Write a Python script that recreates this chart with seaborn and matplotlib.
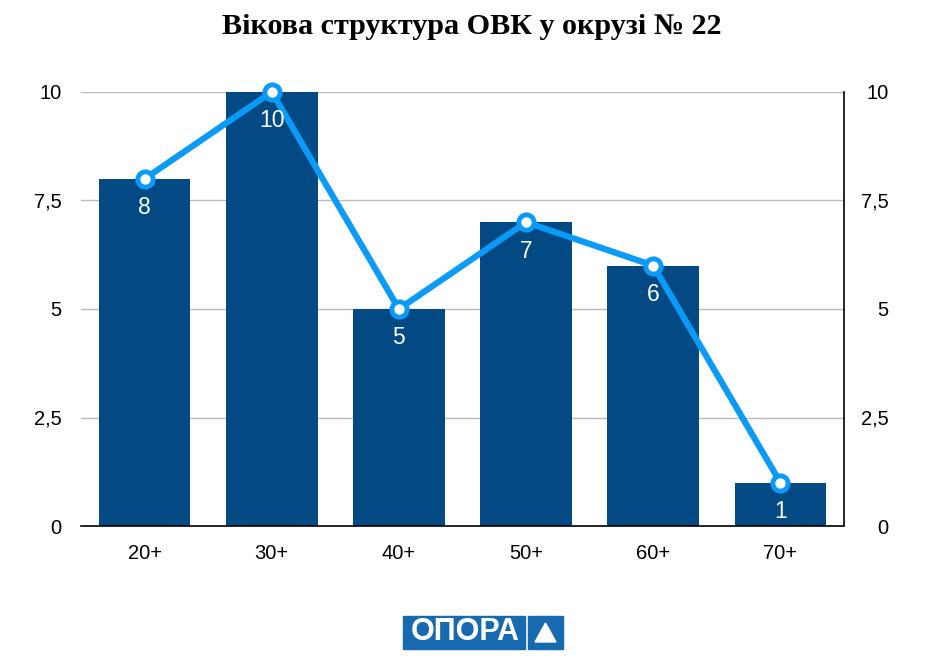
import numpy as np
import pandas as pd
import matplotlib
matplotlib.use('Agg')
import matplotlib.pyplot as plt
import seaborn as sns
from matplotlib.patches import Rectangle, Polygon

ages = ['20+', '30+', '40+', '50+', '60+', '70+']
counts = [8, 10, 5, 7, 6, 1]
yticks = [0, 2.5, 5, 7.5, 10]
ytick_labels = ['0', '2,5', '5', '7,5', '10']
title = 'Вікова структура ОВК у окрузі № 22'

bar_color = '#034983'
line_color = '#0a9af7'

df = pd.DataFrame({'age': ages, 'count': counts})

sns.set_style('white')
plt.rcParams['font.family'] = ['Liberation Sans', 'DejaVu Sans']
plt.rcParams['text.color'] = 'black'

fig = plt.figure(figsize=(9.43, 6.63), dpi=100)
ax = fig.add_axes([81 / 943, 1 - 526 / 663, (844 - 81) / 943, (526 - 92) / 663])

sns.barplot(data=df, x='age', y='count', color=bar_color, width=0.72,
            saturation=1, linewidth=0, ax=ax, zorder=2)
sns.lineplot(x=np.arange(len(counts)), y=counts, color=line_color, lw=4.5,
             marker='o', markersize=11, markerfacecolor='white',
             markeredgecolor=line_color, markeredgewidth=3.5, ax=ax, zorder=4,
             clip_on=False)

# value labels under each point
for i, v in enumerate(counts):
    ax.text(i, v - 0.4, str(v), ha='center', va='top', color='white',
            fontsize=16.5, zorder=5)

ax.set_xlim(-0.5, 5.5)
ax.set_ylim(0, 10)
ax.set_yticks(yticks)
ax.set_yticklabels(ytick_labels)
ax.set_xlabel('')
ax.set_ylabel('')
ax.grid(axis='y', color='#bbbbbb', lw=1, zorder=0)
ax.set_axisbelow(True)
for s in ['top', 'left']:
    ax.spines[s].set_visible(False)
ax.spines['bottom'].set_color('black')
ax.spines['bottom'].set_linewidth(1.2)
ax.spines['right'].set_color('black')
ax.spines['right'].set_linewidth(1.2)
ax.tick_params(axis='both', length=0, labelsize=14.5, colors='black')
ax.tick_params(axis='y', pad=14)
ax.tick_params(axis='x', pad=13)

# right axis
ax2 = ax.twinx()
ax2.set_ylim(0, 10)
ax2.set_yticks(yticks)
ax2.set_yticklabels(ytick_labels, ha='right')
ax2.tick_params(axis='y', length=0, labelsize=14.5, pad=32, colors='black')
for s in ax2.spines.values():
    s.set_visible(False)

fig.text(0.5, 1 - 27 / 663, title, ha='center', va='center', fontsize=21.7,
         fontweight='bold', color='black',
         family=['Liberation Serif', 'DejaVu Serif'])

# logo
fig.patches.append(Rectangle((403 / 943, 1 - 649 / 663), 122 / 943, 33 / 663,
                             transform=fig.transFigure, color='#1769b0'))
fig.patches.append(Rectangle((528 / 943, 1 - 649 / 663), 35 / 943, 33 / 663,
                             transform=fig.transFigure, color='#1769b0'))
fig.patches.append(Polygon([(535 / 943, 1 - 642 / 663), (556 / 943, 1 - 642 / 663),
                            (545.5 / 943, 1 - 623 / 663)], closed=True,
                           transform=fig.transFigure, color='white'))
fig.text(465 / 943, 1 - 632.5 / 663, 'ОПОРА', ha='center', va='center',
         color='white', fontsize=22, fontweight='bold')

fig.savefig('out.png', dpi=100, facecolor='white')
